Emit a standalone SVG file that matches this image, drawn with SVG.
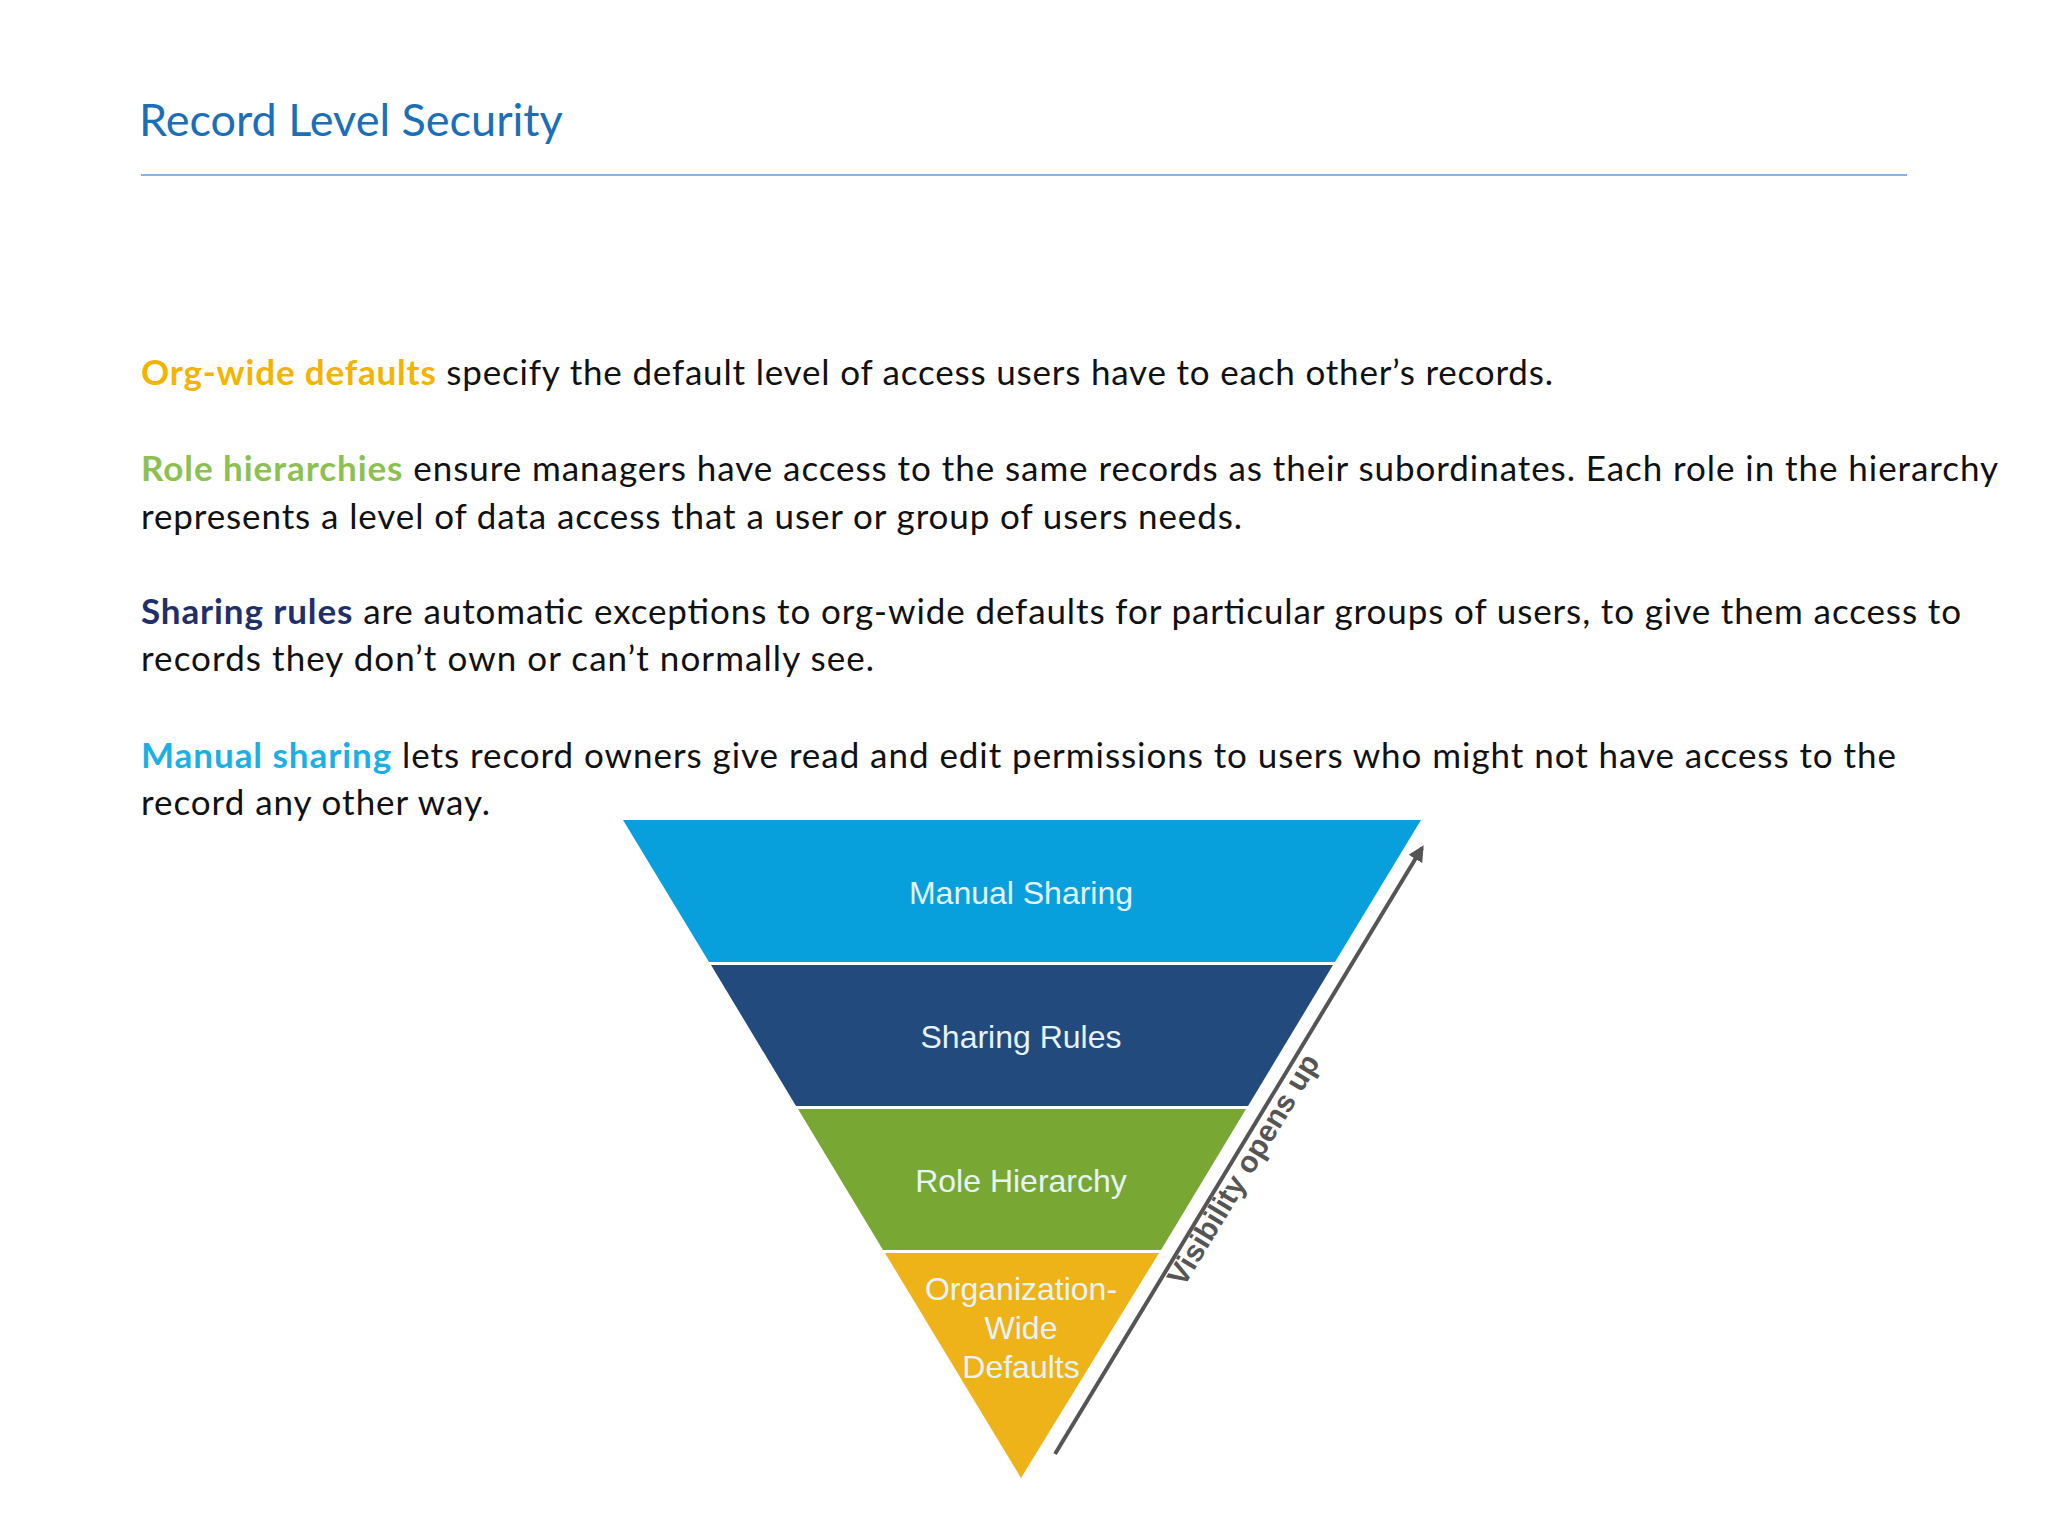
<svg xmlns="http://www.w3.org/2000/svg" width="2048" height="1536" viewBox="0 0 2048 1536">
<defs>
<marker id="ah" viewBox="0 0 10 10" refX="8" refY="5" markerWidth="4" markerHeight="4" orient="auto"><path d="M0,0 L10,5 L0,10 Z" fill="#555"/></marker>
</defs>
<style>
.p{font-family:Lato,"Open Sans",sans-serif;font-size:35px;fill:#111}
.lb{font-family:"Liberation Sans",Arial,sans-serif;font-size:32px;fill:#e6f3fb;text-anchor:middle}
</style>
<rect width="2048" height="1536" fill="#fff"/>
<text x="139" y="136" font-family="Lato,'Open Sans',sans-serif" font-size="45" fill="#1a6fb8">Record Level Security</text>
<line x1="141" y1="175" x2="1907" y2="175" stroke="#5b9bd5" stroke-width="1.5"/>
<g class="p">
<text x="141" y="385" textLength="1412"><tspan fill="#f2b400" font-weight="bold">Org-wide defaults</tspan> specify the default level of access users have to each other’s records.</text>
<text x="141" y="481" textLength="1857"><tspan fill="#8cc152" font-weight="bold">Role hierarchies</tspan> ensure managers have access to the same records as their subordinates. Each role in the hierarchy</text>
<text x="141" y="529" textLength="1101">represents a level of data access that a user or group of users needs.</text>
<text x="141" y="624" textLength="1820"><tspan fill="#1f2f6b" font-weight="bold">Sharing rules</tspan> are automatic exceptions to org-wide defaults for particular groups of users, to give them access to</text>
<text x="141" y="671" textLength="733">records they don’t own or can’t normally see.</text>
<text x="141" y="768" textLength="1755"><tspan fill="#1ab0e6" font-weight="bold">Manual sharing</tspan> lets record owners give read and edit permissions to users who might not have access to the</text>
<text x="141" y="815" textLength="349">record any other way.</text>
</g>
<g id="manual"><polygon points="623,820 1421,820 1335,962 709,962" fill="#08a0dc"/><text class="lb" x="1021" y="904">Manual Sharing</text></g>
<g id="rules"><polygon points="711,965 1333,965 1248,1106 796,1106" fill="#234a7c"/><text class="lb" x="1021" y="1048">Sharing Rules</text></g>
<g id="role"><polygon points="798,1109 1246,1109 1161,1250 883,1250" fill="#78a833"/><text class="lb" x="1021" y="1192">Role Hierarchy</text></g>
<g id="owd"><polygon points="885,1253 1159,1253 1021,1478" fill="#efb31a"/><text class="lb" x="1021" y="1300">Organization-</text><text class="lb" x="1021" y="1339">Wide</text><text class="lb" x="1021" y="1378">Defaults</text></g>
<g id="connectors"><line x1="1055" y1="1454" x2="1422" y2="848" stroke="#555" stroke-width="4" marker-end="url(#ah)"/></g>
<text transform="translate(1252,1175) rotate(-58.8)" text-anchor="middle" font-family="'Liberation Sans',Arial,sans-serif" font-weight="bold" font-size="30" fill="#555">Visibility opens up</text>
</svg>
